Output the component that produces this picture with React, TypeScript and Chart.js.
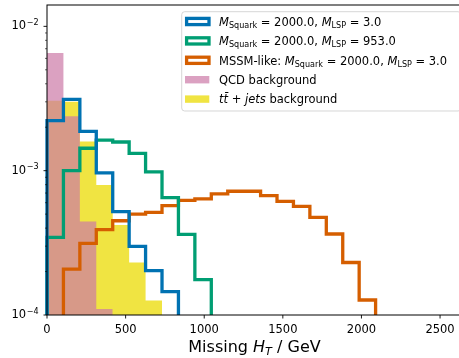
import React, { useEffect, useRef } from 'react';
import { Chart, registerables } from 'chart.js';

Chart.register(...registerables);

// ---- data ----
const binEdges = [0, 104.5, 209, 313.5, 418, 522.5, 627, 731.5, 836, 940.5, 1045, 1149.5, 1254, 1358.5, 1463, 1567.5, 1672, 1776.5, 1881, 1985.5, 2090];
const sqLsp3Vals = [2.22e-3, 3.12e-3, 1.87e-3, 9.66e-4, 5.2e-4, 2.99e-4, 2.03e-4, 1.45e-4];
const sqLsp953Vals = [3.45e-4, 1.0e-3, 1.43e-3, 1.63e-3, 1.58e-3, 1.32e-3, 9.8e-4, 6.5e-4, 3.62e-4, 1.76e-4];
const mssmVals = [0, 2.08e-4, 3.14e-4, 3.9e-4, 4.5e-4, 5.0e-4, 5.14e-4, 5.72e-4, 6.22e-4, 6.37e-4, 6.9e-4, 7.2e-4, 7.2e-4, 6.71e-4, 6.13e-4, 5.66e-4, 4.75e-4, 3.64e-4, 2.31e-4, 1.27e-4];
const qcdVals = [6.54e-3, 2.38e-3, 4.45e-4, 1.1e-4];
const ttVals = [3.05e-3, 3.0e-3, 1.59e-3, 7.96e-4, 4.2e-4, 2.31e-4, 1.26e-4];

const xTickValues = [0, 500, 1000, 1500, 2000, 2500];
const xTickLabels = ['0', '500', '1000', '1500', '2000', '2500'];
const yMajorTicks = [1e-4, 1e-3, 1e-2];
const yMajorExponents = ['\u22124', '\u22123', '\u22122'];
const yMinorTicks = [2e-4, 3e-4, 4e-4, 5e-4, 6e-4, 7e-4, 8e-4, 9e-4, 2e-3, 3e-3, 4e-3, 5e-3, 6e-3, 7e-3, 8e-3, 9e-3];

type Run = { t: string; it?: boolean; sub?: boolean };
const legendLabels: Run[][] = [
  [{ t: 'M', it: true }, { t: 'Squark', sub: true }, { t: ' = 2000.0, ' }, { t: 'M', it: true }, { t: 'LSP', sub: true }, { t: ' = 3.0' }],
  [{ t: 'M', it: true }, { t: 'Squark', sub: true }, { t: ' = 2000.0, ' }, { t: 'M', it: true }, { t: 'LSP', sub: true }, { t: ' = 953.0' }],
  [{ t: 'MSSM-like: ' }, { t: 'M', it: true }, { t: 'Squark', sub: true }, { t: ' = 2000.0, ' }, { t: 'M', it: true }, { t: 'LSP', sub: true }, { t: ' = 3.0' }],
  [{ t: 'QCD background' }],
  [{ t: 't', it: true }, { t: 't\u0304', it: true }, { t: ' + ' }, { t: 'jets', it: true }, { t: ' background' }],
];
const xTitle: Run[] = [{ t: 'Missing ' }, { t: 'H', it: true }, { t: 'T', it: true, sub: true }, { t: ' / GeV' }];

const BLUE = '#0072B2';
const GREEN = '#009E73';
const ORANGE = '#D55E00';
const PINK = 'rgba(204,121,167,0.7)';
const YELLOW = '#F0E442';

const X_MAX = 2665;
const Y_MIN = 1e-4;
const Y_MAX = 0.01406;
const FLOOR = 1e-7;
const FONT = '"DejaVu Sans"';
const TICK_SIZE = 11.5;
const LEGEND_SIZE = 11.5;

function stepPoints(vals: number[]) {
  const pts: { x: number; y: number }[] = [{ x: binEdges[0], y: FLOOR }];
  vals.forEach((v, i) => {
    const y = v > 0 ? v : FLOOR;
    pts.push({ x: binEdges[i], y }, { x: binEdges[i + 1], y });
  });
  pts.push({ x: binEdges[vals.length], y: FLOOR });
  return pts;
}

function drawRuns(ctx: CanvasRenderingContext2D, runs: Run[], x: number, baseline: number, size: number, draw = true) {
  let cx = x;
  for (const r of runs) {
    const s = r.sub ? size * 0.7 : size;
    ctx.font = `${r.it ? 'italic ' : ''}${s}px ${FONT}`;
    const dy = r.sub ? size * 0.2 : 0;
    if (draw) ctx.fillText(r.t, cx, baseline + dy);
    cx += ctx.measureText(r.t).width;
  }
  return cx - x;
}

const axesPlugin = {
  id: 'mplAxes',
  afterDatasetsDraw(chart: any) {
    const { ctx, chartArea: a, scales } = chart;
    const xs = scales.x;
    const ys = scales.y;
    ctx.save();
    ctx.fillStyle = '#000';
    ctx.strokeStyle = '#000';
    ctx.textAlign = 'left';
    ctx.textBaseline = 'alphabetic';
    // spines
    ctx.lineWidth = 1;
    ctx.strokeRect(a.left, a.top, a.right - a.left, a.bottom - a.top);
    // x ticks
    ctx.lineWidth = 0.9;
    xTickValues.forEach((v, i) => {
      const px = xs.getPixelForValue(v);
      ctx.beginPath();
      ctx.moveTo(px, a.bottom);
      ctx.lineTo(px, a.bottom + 3.5);
      ctx.stroke();
      ctx.font = `${TICK_SIZE}px ${FONT}`;
      const w = ctx.measureText(xTickLabels[i]).width;
      ctx.fillText(xTickLabels[i], px - w / 2, a.bottom + 17.5);
    });
    // y major ticks
    const supSize = TICK_SIZE * 0.7;
    yMajorTicks.forEach((v, i) => {
      const py = ys.getPixelForValue(v);
      ctx.lineWidth = 0.9;
      ctx.beginPath();
      ctx.moveTo(a.left, py);
      ctx.lineTo(a.left - 3.5, py);
      ctx.stroke();
      ctx.font = `${TICK_SIZE}px ${FONT}`;
      const w10 = ctx.measureText('10').width;
      ctx.font = `${supSize}px ${FONT}`;
      const wSup = ctx.measureText(yMajorExponents[i]).width;
      const right = a.left - 8.5;
      const start = right - w10 - wSup - 0.5;
      ctx.font = `${TICK_SIZE}px ${FONT}`;
      ctx.fillText('10', start, py + 3);
      ctx.font = `${supSize}px ${FONT}`;
      ctx.fillText(yMajorExponents[i], start + w10 + 0.5, py - 1.4);
    });
    // y minor ticks
    ctx.lineWidth = 0.6;
    yMinorTicks.forEach((v) => {
      const py = ys.getPixelForValue(v);
      ctx.beginPath();
      ctx.moveTo(a.left, py);
      ctx.lineTo(a.left - 2, py);
      ctx.stroke();
    });
    // x title
    const tw = drawRuns(ctx, xTitle, 0, 0, 16, false);
    drawRuns(ctx, xTitle, (a.left + a.right) / 2 - tw / 2 - 2, a.bottom + 36.5, 16);
    ctx.restore();
  },
  afterDraw(chart: any) {
    const { ctx, chartArea: a } = chart;
    ctx.save();
    const left = 181.7;
    const top = 11.7;
    const right = a.right - 5;
    const bottom = 111;
    ctx.beginPath();
    ctx.roundRect(left, top, right - left, bottom - top, 3);
    ctx.fillStyle = 'rgba(255,255,255,0.8)';
    ctx.fill();
    ctx.strokeStyle = 'rgba(204,204,204,0.8)';
    ctx.lineWidth = 1;
    ctx.stroke();
    const handles = [
      { kind: 'line', color: BLUE },
      { kind: 'line', color: GREEN },
      { kind: 'line', color: ORANGE },
      { kind: 'fill', color: PINK },
      { kind: 'fill', color: YELLOW },
    ];
    ctx.textAlign = 'left';
    ctx.textBaseline = 'alphabetic';
    legendLabels.forEach((runs, i) => {
      const cy = top + 9.8 + i * 19.4;
      const h = handles[i];
      if (h.kind === 'line') {
        ctx.strokeStyle = h.color;
        ctx.lineWidth = 3.3;
        ctx.lineJoin = 'miter';
        ctx.strokeRect(186.6, cy - 3.1, 22.4, 6.2);
      } else {
        ctx.fillStyle = h.color;
        ctx.fillRect(185, cy - 3.7, 24.3, 7.4);
      }
      ctx.fillStyle = '#000';
      drawRuns(ctx, runs, 219, cy + 4.2, LEGEND_SIZE);
    });
    ctx.restore();
  },
};

export default function App() {
  const ref = useRef<HTMLCanvasElement>(null);
  useEffect(() => {
    if (!ref.current) return;
    const lineDs = (label: string, vals: number[], color: string, order: number) => ({
      label,
      data: stepPoints(vals),
      borderColor: color,
      backgroundColor: color,
      borderWidth: 3.3,
      borderJoinStyle: 'miter' as const,
      pointRadius: 0,
      fill: false,
      tension: 0,
      order,
      clip: { left: 3, right: 3, top: 0, bottom: 0 },
    });
    const fillDs = (label: string, vals: number[], color: string, order: number) => ({
      label,
      data: stepPoints(vals),
      borderColor: 'rgba(0,0,0,0)',
      backgroundColor: color,
      borderWidth: 0,
      pointRadius: 0,
      fill: 'start',
      tension: 0,
      order,
    });
    const chart = new Chart(ref.current, {
      type: 'line',
      data: {
        datasets: [
          lineDs('MSquark = 2000.0, MLSP = 3.0', sqLsp3Vals, BLUE, 1),
          lineDs('MSquark = 2000.0, MLSP = 953.0', sqLsp953Vals, GREEN, 2),
          lineDs('MSSM-like: MSquark = 2000.0, MLSP = 3.0', mssmVals, ORANGE, 3),
          fillDs('QCD background', qcdVals, PINK, 4),
          fillDs('tt + jets background', ttVals, YELLOW, 5),
        ] as any,
      },
      options: {
        responsive: false,
        maintainAspectRatio: false,
        devicePixelRatio: 1,
        animation: false,
        events: [],
        layout: { padding: { left: 47, top: 5, right: 4, bottom: 43 } },
        scales: {
          x: { type: 'linear', min: 0, max: X_MAX, display: false },
          y: { type: 'logarithmic', min: Y_MIN, max: Y_MAX, display: false },
        },
        plugins: { legend: { display: false }, tooltip: { enabled: false } },
      },
      plugins: [axesPlugin],
    });
    return () => chart.destroy();
  }, []);
  return (
    <div style={{ position: 'fixed', left: 0, top: 0, width: 459, height: 358, overflow: 'hidden', background: '#fff' }}>
      <canvas ref={ref} width={470} height={358} style={{ display: 'block', width: 470, height: 358 }} />
    </div>
  );
}
